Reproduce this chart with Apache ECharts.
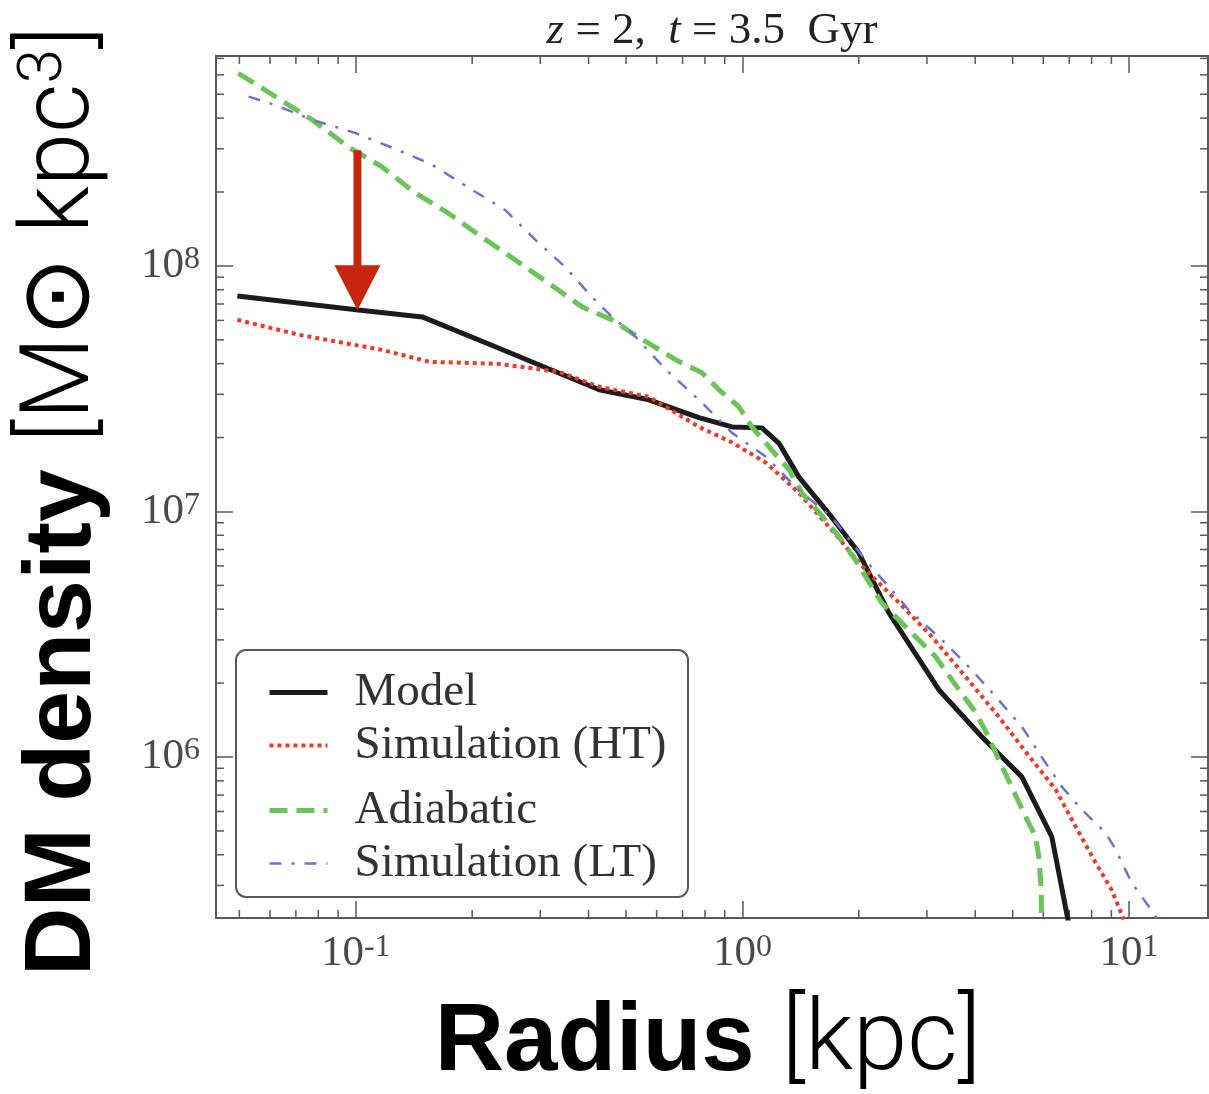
<!DOCTYPE html>
<html><head><meta charset="utf-8">
<script src="https://cdn.jsdelivr.net/npm/echarts@6/dist/echarts.min.js"></script>
<style>html,body{margin:0;padding:0;background:#fff}#c{width:1209px;height:1094px}</style>
</head><body><div id="c"></div>
<script>
// ---- data (radius in kpc, density in Msun/kpc^3) ----
const modelR   = [0.0494, 0.1015, 0.1486, 0.233, 0.426, 0.573, 0.772, 0.94, 1.123, 1.242, 1.40, 1.70, 2.0, 2.39, 3.22, 4.16, 4.69, 5.28, 6.31, 6.98];
const modelRho = [7.55e7, 6.62e7, 6.2e7, 4.64e7, 3.13e7, 2.85e7, 2.41e7, 2.21e7, 2.19e7, 1.90e7, 1.38e7, 9.5e6, 6.79e6, 3.87e6, 1.88e6, 1.21e6, 1.0e6, 8.3e5, 4.74e5, 2.1e5];

const htR   = [0.0494, 0.0714, 0.117, 0.155, 0.235, 0.336, 0.426, 0.573, 0.772, 0.94, 1.15, 1.40, 1.70, 2.08, 2.54, 3.09, 3.78, 4.60, 5.60, 6.46, 7.27, 8.19, 9.01, 9.69];
const htRho = [6.03e7, 5.24e7, 4.55e7, 4.07e7, 3.99e7, 3.70e7, 3.22e7, 2.93e7, 2.21e7, 1.91e7, 1.58e7, 1.19e7, 8.42e6, 5.79e6, 4.25e6, 3.09e6, 2.12e6, 1.46e6, 9.76e5, 7.37e5, 5.21e5, 3.72e5, 2.88e5, 2.18e5];

const adR   = [0.0497, 0.0583, 0.0772, 0.0957, 0.117, 0.1426, 0.1735, 0.212, 0.258, 0.314, 0.385, 0.46, 0.518, 0.673, 0.786, 0.87, 0.979, 1.058, 1.19, 1.32, 1.425, 1.58, 1.745, 1.96, 2.29, 2.69, 3.16, 3.63, 4.01, 4.33, 4.60, 4.97, 5.40, 5.73, 5.84, 5.91, 5.95];
const adRho = [6.09e8, 5.2e8, 3.93e8, 3.05e8, 2.53e8, 1.98e8, 1.64e8, 1.31e8, 1.06e8, 8.53e7, 6.81e7, 6.03e7, 5.33e7, 4.14e7, 3.67e7, 3.13e7, 2.67e7, 2.21e7, 1.78e7, 1.48e7, 1.19e7, 9.9e6, 8.19e6, 6.35e6, 4.25e6, 3.30e6, 2.56e6, 1.88e6, 1.52e6, 1.21e6, 9.76e5, 7.57e5, 5.71e5, 4.74e5, 3.93e5, 3.08e5, 2.1e5];

const ltR   = [0.0528, 0.0619, 0.0772, 0.0997, 0.1288, 0.1577, 0.200, 0.2433, 0.291, 0.348, 0.408, 0.46, 0.518, 0.634, 0.772, 0.94, 1.15, 1.40, 1.70, 2.08, 2.69, 3.28, 3.85, 4.52, 5.28, 5.94, 6.69, 7.54, 8.69, 9.23, 10.15, 11.4, 11.8];
const ltRho = [4.89e8, 4.52e8, 3.93e8, 3.48e8, 2.96e8, 2.58e8, 2.04e8, 1.69e8, 1.28e8, 9.9e7, 7.48e7, 6.2e7, 5.33e7, 3.78e7, 2.85e7, 2.09e7, 1.67e7, 1.22e7, 9.5e6, 6.35e6, 3.98e6, 3.0e6, 2.33e6, 1.76e6, 1.33e6, 1.0e6, 7.59e5, 6.11e5, 4.92e5, 4.2e5, 3.08e5, 2.39e5, 2.2e5];

const seriesNames = ['Model', 'Simulation (HT)', 'Adiabatic', 'Simulation (LT)'];

// axis ranges and minor tick values
const xRange = [0.0435, 16.0];
const yRange = [2.21e5, 7.16e8];
const xMinorTicks = [0.05, 0.06, 0.07, 0.08, 0.09, 0.2, 0.3, 0.4, 0.5, 0.6, 0.7, 0.8, 0.9, 2, 3, 4, 5, 6, 7, 8, 9];
const yMinorTicks = [3e5, 4e5, 5e5, 6e5, 7e5, 8e5, 9e5, 2e6, 3e6, 4e6, 5e6, 6e6, 7e6, 8e6, 9e6, 2e7, 3e7, 4e7, 5e7, 6e7, 7e7, 8e7, 9e7, 2e8, 3e8, 4e8, 5e8, 6e8, 7e8];

// red arrow: x position, top value, tip value
const arrowX = [0.101];
const arrowTop = [2.96e8];
const arrowTip = [6.6e7];

const zip = (a, b) => a.map((v, i) => [v, b[i]]);

const serif = "'Liberation Serif', 'DejaVu Serif', serif";
function powLabel(v) {
  const e = Math.log10(v);
  const r = Math.round(e);
  if (Math.abs(e - r) > 1e-6) return '';
  const s = r < 0 ? '-' + (-r) : String(r);
  return '{b|10}{s|' + s + '}';
}
const labelRich = {
  b: { fontFamily: serif, fontSize: 43, lineHeight: 44, color: '#4a4a4a' },
  s: { fontFamily: serif, fontSize: 32, lineHeight: 10, verticalAlign: 'top', color: '#4a4a4a' }
};
const frameColor = '#595959';

const chart = echarts.init(document.getElementById('c'), null, { renderer: 'canvas' });

const tickStyle = { color: frameColor, width: 1.5 };
const legendText = { fontFamily: serif, fontSize: 47, lineHeight: 44, color: '#333', padding: [0, 0, 0, 22] };

const option = {
  backgroundColor: '#ffffff',
  animation: false,
  grid: { left: 216, top: 56, right: 1, bottom: 176, show: true, borderColor: frameColor, borderWidth: 2, backgroundColor: 'transparent', containLabel: false },
  xAxis: [
    { type: 'log', min: xRange[0], max: xRange[1], position: 'bottom',
      axisLine: { show: false }, splitLine: { show: false },
      axisTick: { inside: true, length: 17, lineStyle: tickStyle },
      axisLabel: { margin: 14, formatter: powLabel, rich: labelRich, showMinLabel: false, showMaxLabel: false } },
    { type: 'log', min: xRange[0], max: xRange[1], position: 'top',
      axisLine: { show: false }, splitLine: { show: false },
      axisTick: { inside: true, length: 17, lineStyle: tickStyle },
      axisLabel: { show: false } }
  ],
  yAxis: [
    { type: 'log', min: yRange[0], max: yRange[1], position: 'left',
      axisLine: { show: false }, splitLine: { show: false },
      axisTick: { inside: true, length: 17, lineStyle: tickStyle },
      axisLabel: { margin: 16, formatter: powLabel, rich: labelRich, showMinLabel: false, showMaxLabel: false } },
    { type: 'log', min: yRange[0], max: yRange[1], position: 'right',
      axisLine: { show: false }, splitLine: { show: false },
      axisTick: { inside: true, length: 17, lineStyle: tickStyle },
      axisLabel: { show: false } }
  ],
  legend: [
    { data: ['Model', 'Simulation (HT)'], orient: 'vertical', left: 262, top: 664, itemWidth: 58, itemHeight: 14, itemGap: 6,
      selectedMode: false, z: 6, itemStyle: { opacity: 0 }, lineStyle: { width: 'inherit' },
      textStyle: legendText },
    { data: ['Adiabatic', 'Simulation (LT)'], orient: 'vertical', left: 262, top: 782, itemWidth: 58, itemHeight: 14, itemGap: 6,
      selectedMode: false, z: 6, itemStyle: { opacity: 0 }, lineStyle: { width: 'inherit' },
      textStyle: legendText }
  ],
  graphic: [
    { type: 'rect', z: 5, shape: { x: 236, y: 650, width: 452, height: 247, r: 10 },
      style: { fill: '#ffffff', stroke: frameColor, lineWidth: 2 } },
    { type: 'text', x: 712, y: 31, z: 10,
      style: { text: '{i|z}{r| = 2,  }{i|t}{r| = 3.5  Gyr}', align: 'center', verticalAlign: 'middle',
        rich: { i: { fontFamily: serif, fontStyle: 'italic', fontSize: 45, fill: '#222' },
                r: { fontFamily: serif, fontSize: 45, fill: '#222' } } } },
    { type: 'text', x: 708, y: 1044, z: 10,
      style: { text: '{b|Radius }{l|[kpc]}', align: 'center', verticalAlign: 'middle',
        rich: { b: { fontFamily: "'Liberation Sans', Arial, sans-serif", fontWeight: 'bold', fontSize: 96, fill: '#000' },
                l: { fontFamily: "Roboto, 'Open Sans', Lato, sans-serif", fontWeight: 300, fontSize: 98, fill: '#000' } } } },
    { type: 'text', x: 64, y: 501, rotation: Math.PI / 2, z: 10,
      style: { text: '{b|DM density }{l|[M\u2299 kpc}{s|3}{l|]}', align: 'center', verticalAlign: 'middle',
        rich: { b: { fontFamily: "'Liberation Sans', Arial, sans-serif", fontWeight: 'bold', fontSize: 95, lineHeight: 100, fill: '#000' },
                l: { fontFamily: "Roboto, 'Open Sans', Lato, 'DejaVu Sans', sans-serif", fontWeight: 300, fontSize: 96, lineHeight: 100, fill: '#000' },
                s: { fontFamily: "Roboto, 'Open Sans', Lato, sans-serif", fontWeight: 300, fontSize: 62, lineHeight: 30, verticalAlign: 'top', fill: '#000' } } } }
  ],
  series: [
    { name: seriesNames[0], type: 'line', data: zip(modelR, modelRho), symbol: 'none', clip: true, z: 3,
      lineStyle: { color: '#1c1c1c', width: 5 }, itemStyle: { color: '#1c1c1c' } },
    { name: seriesNames[1], type: 'line', data: zip(htR, htRho), symbol: 'none', clip: true, z: 3,
      lineStyle: { color: '#f0392b', width: 4, type: [4, 4] }, itemStyle: { color: '#f0392b' } },
    { name: seriesNames[2], type: 'line', data: zip(adR, adRho), symbol: 'none', clip: true, z: 3,
      lineStyle: { color: '#6cc35a', width: 5, type: [18, 9] }, itemStyle: { color: '#6cc35a' } },
    { name: seriesNames[3], type: 'line', data: zip(ltR, ltRho), symbol: 'none', clip: true, z: 3,
      lineStyle: { color: '#6f72c9', width: 2.5, type: [12, 10, 3, 10] }, itemStyle: { color: '#6f72c9' } },
    { type: 'custom', name: 'xminor', silent: true, z: 2,
      data: xMinorTicks.map(v => [v, 1e7]),
      renderItem: function (params, api) {
        const p = api.coord([api.value(0), api.value(1)]);
        const cs = params.coordSys;
        return { type: 'group', children: [
          { type: 'line', shape: { x1: p[0], y1: cs.y + cs.height, x2: p[0], y2: cs.y + cs.height - 8 }, style: { stroke: frameColor, lineWidth: 1.5 } },
          { type: 'line', shape: { x1: p[0], y1: cs.y, x2: p[0], y2: cs.y + 8 }, style: { stroke: frameColor, lineWidth: 1.5 } }
        ] };
      } },
    { type: 'custom', name: 'yminor', silent: true, z: 2,
      data: yMinorTicks.map(v => [1, v]),
      renderItem: function (params, api) {
        const p = api.coord([api.value(0), api.value(1)]);
        const cs = params.coordSys;
        return { type: 'group', children: [
          { type: 'line', shape: { x1: cs.x, y1: p[1], x2: cs.x + 8, y2: p[1] }, style: { stroke: frameColor, lineWidth: 1.5 } },
          { type: 'line', shape: { x1: cs.x + cs.width, y1: p[1], x2: cs.x + cs.width - 8, y2: p[1] }, style: { stroke: frameColor, lineWidth: 1.5 } }
        ] };
      } },
    { type: 'custom', name: 'arrow', silent: true, z: 8,
      data: arrowX.map((x, i) => [x, arrowTop[i], arrowTip[i]]),
      renderItem: function (params, api) {
        const top = api.coord([api.value(0), api.value(1)]);
        const tip = api.coord([api.value(0), api.value(2)]);
        const headH = 45, headW = 23, shaftW = 4;
        const col = '#c8260c';
        return { type: 'group', children: [
          { type: 'rect', shape: { x: top[0] - shaftW, y: top[1], width: shaftW * 2, height: tip[1] - headH - top[1] + 1 }, style: { fill: col } },
          { type: 'polygon', shape: { points: [[tip[0] - headW, tip[1] - headH], [tip[0] + headW, tip[1] - headH], [tip[0], tip[1]]] }, style: { fill: col } }
        ] };
      } }
  ]
};
chart.setOption(option);
</script>
</body></html>
